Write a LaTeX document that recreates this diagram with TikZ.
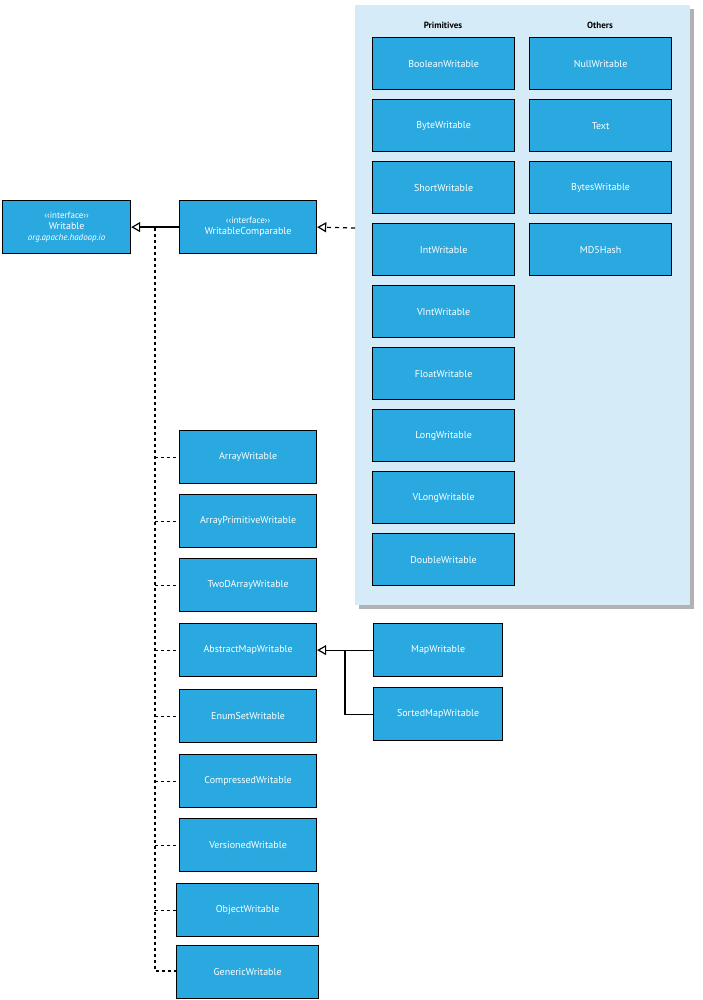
\documentclass[tikz,border=0pt]{standalone}
\usepackage{fontspec}
\setmainfont{PT Sans}
\usetikzlibrary{arrows.meta,shadows}
\definecolor{boxblue}{HTML}{29A9E0}
\definecolor{panel}{HTML}{D5ECF8}
\begin{document}
\begin{tikzpicture}[x=1pt,y=-1pt,
  box/.style={draw=black,line width=1.2pt,fill=boxblue,text=white,inner sep=0pt,anchor=north west,align=center,font=\fontsize{10}{11}\selectfont},
  inh/.style={line width=1.2pt,-{Triangle[open,length=9pt,width=10pt,fill=white]}},
  dsh/.style={line width=1.2pt,dash pattern=on 3pt off 3pt},
  hdr/.style={font=\bfseries\fontsize{9}{10}\selectfont}]
\useasboundingbox (0,0) rectangle (702,1000);
\fill[gray!60] (359,9) rectangle (694,609);
\fill[panel] (355,5) rectangle (690,605);
\node[hdr] at (443,25) {Primitives};
\node[hdr] at (600,25) {Others};
\newcommand{\bx}[6]{\node[box,minimum width=#3pt,minimum height=#4pt] (#5) at (#1,#2) {#6};}
\bx{2}{200}{128}{53}{w}{\fontsize{9}{9}\selectfont ‹‹interface››\\Writable\\\fontsize{9}{10}\selectfont\itshape org.apache.hadoop.io}
\bx{179}{200}{137}{53}{wc}{\fontsize{9}{9}\selectfont ‹‹interface››\\WritableComparable}
\foreach \t/\n [count=\i from 0] in {BooleanWritable/p0,ByteWritable/p1,ShortWritable/p2,IntWritable/p3,VIntWritable/p4,FloatWritable/p5,LongWritable/p6,VLongWritable/p7,DoubleWritable/p8}{
  \bx{372}{37+62*\i}{142}{52}{\n}{\t}}
\foreach \t/\n [count=\i from 0] in {NullWritable/o0,Text/o1,BytesWritable/o2,MD5Hash/o3}{
  \bx{529}{37+62*\i}{142}{52}{\n}{\t}}
\bx{179}{430}{137}{53}{a1}{ArrayWritable}
\bx{179}{494}{137}{53}{a2}{ArrayPrimitiveWritable}
\bx{179}{558}{137}{53}{a3}{TwoDArrayWritable}
\bx{179}{623}{137}{53}{a4}{AbstractMapWritable}
\bx{179}{689}{137}{53}{a5}{EnumSetWritable}
\bx{179}{754}{137}{53}{a6}{CompressedWritable}
\bx{179}{818}{137}{53}{a7}{VersionedWritable}
\bx{176}{883}{142}{53}{a8}{ObjectWritable}
\bx{176}{945}{142}{53}{a9}{GenericWritable}
\bx{373}{623}{129}{53}{m1}{MapWritable}
\bx{373}{687}{129}{53}{m2}{SortedMapWritable}
\coordinate (pl) at (355,228);
\draw[inh] (wc.west) -- (w.east);
\draw[inh,dash pattern=on 4pt off 4pt] (pl) -- (wc.east);
\coordinate (vt) at (155,228);
\coordinate (vb) at (155,971);
\draw[dsh] (vt) -- (vb) -- (a9.west|-vb);
\foreach \n in {a1,a2,a3,a4,a5,a6,a7,a8}{\draw[dsh] (vt|-\n.west) -- (\n.west);}
\draw[inh] (m1.west) -- (a4.east);
\coordinate (mj) at (345,649.5);
\draw[line width=1.2pt] (mj) |- (m2.west);
\end{tikzpicture}
\end{document}
